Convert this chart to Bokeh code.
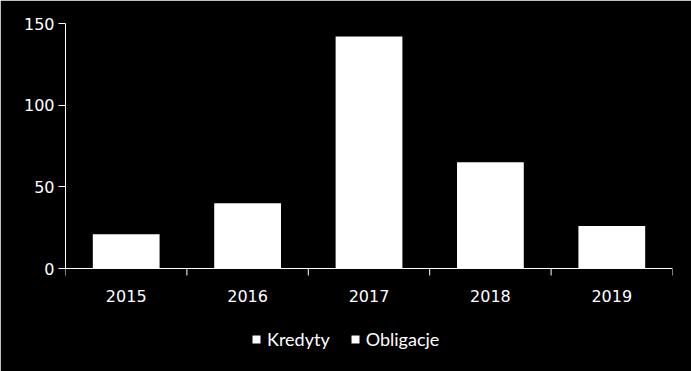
import numpy as np
from bokeh.plotting import figure
from bokeh.models import Range1d, FixedTicker, Legend, LegendItem
from bokeh.core.properties import value
from bokeh.embed import file_html
from bokeh.resources import INLINE

years = ["2015", "2016", "2017", "2018", "2019"]
kredyty = [21, 40, 142, 65, 26]
obligacje = [0, 0, 0, 0, 0]
y_ticks = [0, 50, 100, 150]

n = len(years)
xc = list(np.arange(n) + 0.5)

frame_h = 348
axis_h = 245  # pixels from 0 to 150
y_max = 150
y_min = y_max - frame_h * y_max / axis_h

p = figure(frame_width=607, frame_height=frame_h, output_backend="svg", toolbar_location=None,
           x_range=Range1d(0, n), y_range=Range1d(y_min, y_max),
           x_axis_type=None, min_border_left=65, min_border_right=19,
           min_border_top=23, min_border_bottom=0)
p.background_fill_color = "black"
p.border_fill_color = "black"
p.outline_line_color = "black"
p.outline_line_width = 2
p.grid.visible = False

src = dict(x=xc, kredyty=kredyty, obligacje=obligacje)
rs = p.vbar_stack(["kredyty", "obligacje"], x="x", width=0.55, source=src,
                  color=["white", "white"], line_color=None)

# y axis
ya = p.yaxis[0]
ya.ticker = FixedTicker(ticks=y_ticks)
ya.bounds = (0, y_max)
ya.axis_line_color = "white"
ya.major_tick_line_color = "white"
ya.major_tick_in = 0
ya.major_tick_out = 7
ya.minor_tick_line_color = None
ya.major_label_text_color = "white"
ya.major_label_text_font = "DejaVu Sans"
ya.major_label_text_font_size = "16px"
ya.major_label_standoff = 4

# x axis drawn at y = 0 with ticks between categories
p.segment(x0=[0], y0=[0], x1=[n], y1=[0], line_color="white", line_width=1)
p.ray(x=list(range(n + 1)), y=[0] * (n + 1), length=7, length_units="screen",
      angle=-np.pi / 2, line_color="white", line_width=1)
p.text(x=xc, y=[0] * n, text=years, y_offset=27, text_align="center",
       text_baseline="middle", text_color="white",
       text_font=value("DejaVu Sans"), text_font_size="16px")

legend = Legend(items=[LegendItem(label="Kredyty", renderers=[rs[0]]),
                       LegendItem(label="Obligacje", renderers=[rs[1]])],
                orientation="horizontal", location=(186, 21))
legend.background_fill_alpha = 0
legend.border_line_color = None
legend.label_text_color = "white"
legend.label_text_font = "Lato"
legend.label_text_font_size = "18px"
legend.glyph_width = 10
legend.glyph_height = 10
legend.label_standoff = 6
legend.spacing = 20
legend.margin = 0
legend.padding = 2
p.add_layout(legend, "center")

open("out.html", "w").write(file_html(p, INLINE))
